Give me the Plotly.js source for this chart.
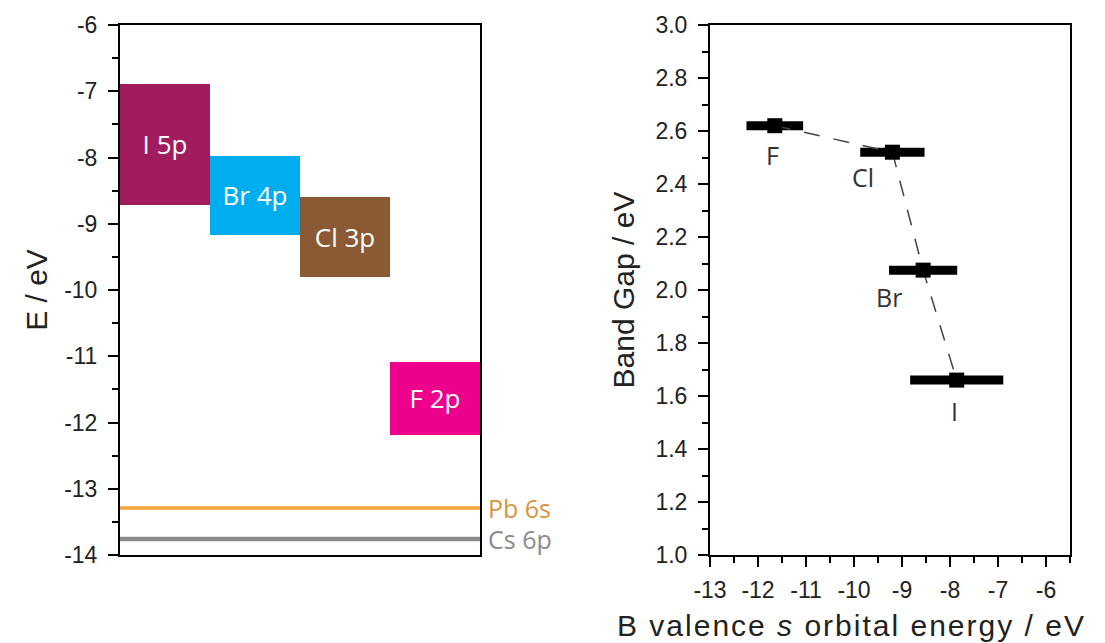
<!DOCTYPE html>
<html>
<head>
<meta charset="utf-8">
<script src="https://cdn.plot.ly/plotly-3.0.1.min.js"></script>
<style>
html,body{margin:0;padding:0;background:#fff;}
#chart{width:1105px;height:643px;}
</style>
</head>
<body>
<div id="chart"></div>
<script>
// ---- Left panel data: halide p-orbital energy ranges (eV) ----
const boxLabels = ['I 5p', 'Br 4p', 'Cl 3p', 'F 2p'];
const boxTop = [-6.89, -7.97, -8.59, -11.08];
const boxBottom = [-8.71, -9.17, -9.81, -12.19];

// ---- Left panel data: cation levels (eV) ----
const levelNames = ['Pb 6s', 'Cs 6p'];
const levelEnergy = [-13.29, -13.76];

// ---- Left axis ticks ----
const leftTickVals = [-14, -13, -12, -11, -10, -9, -8, -7, -6];
const leftTickText = ['-14', '-13', '-12', '-11', '-10', '-9', '-8', '-7', '-6'];

// ---- Right panel data ----
const halides = ['F', 'Cl', 'Br', 'I'];
const orbitalEnergy = [-11.65, -9.2, -8.56, -7.86];
const orbitalErr = [0.59, 0.67, 0.71, 0.97];
const bandGap = [2.62, 2.52, 2.075, 1.66];

// ---- Right axis ticks ----
const rightXTickVals = [-13, -12, -11, -10, -9, -8, -7, -6];
const rightXTickText = ['-13', '-12', '-11', '-10', '-9', '-8', '-7', '-6'];

// ---- Styles ----
const boxColors = ['#A01C5E', '#00AEEF', '#8B5A34', '#EC008C'];
const levelColors = ['#F2A33A', '#8C8C8C'];
const levelTextColors = ['#D89440', '#8A8A8A'];
const labelShift = [[-2, -29], [-29, -25], [-34, -27], [-2, -31]];
const tickFont = {family: 'Liberation Sans, Arial, sans-serif', size: 23, color: '#222'};
const titleFont = {family: 'Liberation Sans, Arial, sans-serif', size: 30, color: '#222'};
const labelFontFamily = 'Open Sans, Noto Sans, sans-serif';

const traces = [
  {
    type: 'bar',
    x: boxLabels,
    y: boxTop.map((t, i) => t - boxBottom[i]),
    base: boxBottom,
    width: 1,
    marker: {color: boxColors, line: {width: 0}},
    text: boxLabels,
    textposition: 'inside',
    insidetextanchor: 'middle',
    constraintext: 'none',
    textangle: 0,
    textfont: {family: labelFontFamily, size: 26, color: '#ffffff'},
    hoverinfo: 'skip',
    xaxis: 'x', yaxis: 'y',
    showlegend: false
  },
  {
    type: 'scatter',
    x: orbitalEnergy,
    y: bandGap,
    mode: 'lines+markers',
    line: {color: '#444', width: 1.5, dash: '16px,14px'},
    marker: {symbol: 'square', size: 15, color: '#000'},
    error_x: {type: 'data', array: orbitalErr, visible: true, thickness: 9, width: 0, color: '#000'},
    xaxis: 'x2', yaxis: 'y2',
    showlegend: false,
    hoverinfo: 'skip'
  }
];

const shapes = levelEnergy.map((e, i) => ({
  type: 'line', xref: 'x domain', yref: 'y',
  x0: 0, x1: 1, y0: e, y1: e,
  line: {color: levelColors[i], width: i === 0 ? 3.5 : 4.5},
  layer: 'above'
}));

const annotations = [];
levelNames.forEach((name, i) => {
  annotations.push({
    text: name, xref: 'x domain', yref: 'y', x: 1, y: levelEnergy[i],
    xanchor: 'left', yanchor: 'middle', xshift: 6, showarrow: false,
    font: {family: labelFontFamily, size: 25, color: levelTextColors[i]}
  });
});
halides.forEach((h, i) => {
  annotations.push({
    text: h, xref: 'x2', yref: 'y2', x: orbitalEnergy[i], y: bandGap[i],
    xshift: labelShift[i][0], yshift: labelShift[i][1],
    xanchor: 'center', yanchor: 'middle', showarrow: false,
    font: {family: labelFontFamily, size: 25, color: '#333'}
  });
});
// x title of the right panel (placed slightly left of axis centre, as in the original)
annotations.push({
  text: '<span style="letter-spacing:2px">B valence <i>s</i> orbital energy / eV</span>',
  xref: 'paper', yref: 'paper',
  x: 851 / 1105, y: 1 - 625 / 643, xanchor: 'center', yanchor: 'middle', showarrow: false,
  font: {family: 'Liberation Sans, Arial, sans-serif', size: 30, color: '#222'}
});

const yDomain = [1 - 555 / 643, 1 - 25 / 643];
const layout = {
  width: 1105, height: 643,
  margin: {l: 0, r: 0, t: 0, b: 0},
  paper_bgcolor: '#fff', plot_bgcolor: '#fff',
  showlegend: false,
  bargap: 0,
  xaxis: {
    domain: [120 / 1105, 480 / 1105], anchor: 'y',
    type: 'category', range: [-0.5, 3.5],
    showline: true, mirror: true, linecolor: '#000', linewidth: 2,
    ticks: '', showticklabels: false, showgrid: false, zeroline: false, fixedrange: true
  },
  yaxis: {
    domain: yDomain, anchor: 'x',
    range: [-14, -6],
    tickvals: leftTickVals, ticktext: leftTickText,
    ticks: 'outside', ticklen: 10, tickwidth: 2, tickcolor: '#000',
    minor: {dtick: 0.5, ticks: 'outside', ticklen: 6, tickwidth: 2, tickcolor: '#000', showgrid: false},
    ticklabelstandoff: 6,
    showline: true, mirror: true, linecolor: '#000', linewidth: 2,
    showgrid: false, zeroline: false,
    tickfont: tickFont,
    title: {text: 'E / eV', font: titleFont, standoff: 8}
  },
  xaxis2: {
    domain: [710 / 1105, 1070 / 1105], anchor: 'y2',
    range: [-13, -5.5],
    tickvals: rightXTickVals, ticktext: rightXTickText,
    ticks: 'outside', ticklen: 10, tickwidth: 2, tickcolor: '#000',
    minor: {dtick: 0.5, ticks: 'outside', ticklen: 6, tickwidth: 2, tickcolor: '#000', showgrid: false},
    ticklabelstandoff: 3,
    showline: true, mirror: true, linecolor: '#000', linewidth: 2,
    showgrid: false, zeroline: false,
    tickfont: tickFont
  },
  yaxis2: {
    domain: yDomain, anchor: 'x2',
    range: [1, 3], dtick: 0.2, tickformat: '.1f',
    ticks: 'outside', ticklen: 10, tickwidth: 2, tickcolor: '#000',
    minor: {dtick: 0.1, ticks: 'outside', ticklen: 6, tickwidth: 2, tickcolor: '#000', showgrid: false},
    ticklabelstandoff: 6,
    showline: true, mirror: true, linecolor: '#000', linewidth: 2,
    showgrid: false, zeroline: false,
    tickfont: tickFont,
    title: {text: 'Band Gap / eV', font: titleFont, standoff: 12}
  },
  shapes: shapes,
  annotations: annotations
};

Plotly.newPlot('chart', traces, layout, {displayModeBar: false, staticPlot: true});
</script>
</body>
</html>
